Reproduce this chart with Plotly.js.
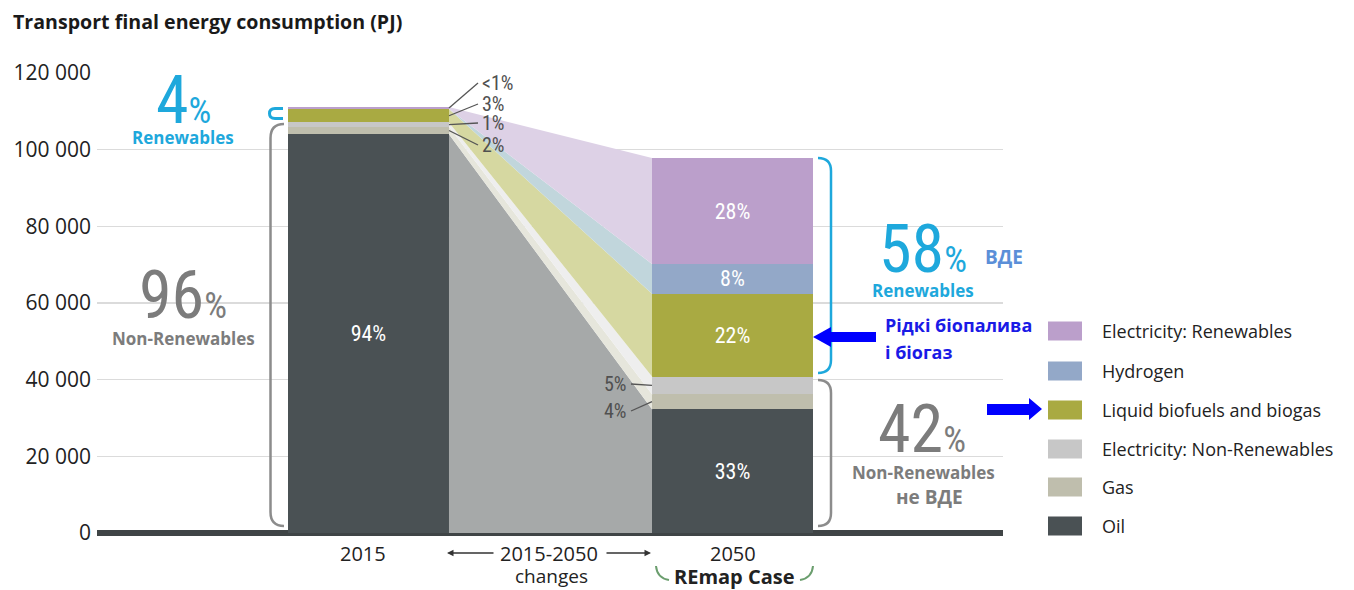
<!DOCTYPE html>
<html>
<head>
<meta charset="utf-8">
<script src="https://cdn.plot.ly/plotly-3.0.1.min.js"></script>
<style>
  html, body { margin: 0; padding: 0; background: #ffffff; }
  #chart { width: 1354px; height: 590px; }
</style>
</head>
<body>
<div id="chart"></div>
<script>
// Transport final energy consumption (PJ), 2015 vs 2050 REmap Case
const years = ['2015', '2050'];
const seriesNames = ['Oil', 'Gas', 'Electricity: Non-Renewables', 'Liquid biofuels and biogas', 'Hydrogen', 'Electricity: Renewables'];
const oil        = [104000, 32300];
const gas        = [2000, 3900];
const elecNonRen = [1100, 4600];
const biofuels   = [3500, 21600];
const hydrogen   = [0, 7800];
const elecRen    = [500, 27600];
const yTickVals  = [0, 20000, 40000, 60000, 80000, 100000, 120000];
const yTickText  = ['0', '20 000', '40 000', '60 000', '80 000', '100 000', '120 000'];

const series = [oil, gas, elecNonRen, biofuels, hydrogen, elecRen];
const renewableIdx = [3, 4, 5];

// styling
const barColors  = ['#4a5154', '#bfbead', '#c7c7c7', '#a9aa42', '#93a8c8', '#bb9fcb'];
const flowColors = ['#a6a9a9', '#e6e6dc', '#eeeeee', '#d6d8a1', '#c1d6dc', '#ddd1e6'];
const FONT  = '"Open Sans", Lato, sans-serif';
const FONTC = '"Liberation Sans Narrow", "Roboto Condensed", "DejaVu Sans Condensed", Roboto, sans-serif';
const CYAN = '#1ea8dc', GREY = '#7c7c7c', BLUE = '#1a1ae6';

// geometry of the plot area (px) and the x positions of the two columns
const M = { l: 97, r: 351, t: 73, b: 57 };
const W = 1354, H = 590;
const plotW = W - M.l - M.r, plotH = H - M.t - M.b;
const barX = [0, 2.261];
const flowX = [0.5, 1.761];
const xRange = [-1.686, 3.941];
const yMax = 120000;

// pixel -> paper helpers for decorations
const px = x => (x - M.l) / plotW;
const py = y => (H - M.b - y) / plotH;
const yPix = v => (H - M.b) - v / yMax * plotH;

const totals = years.map((_, j) => series.reduce((s, arr) => s + arr[j], 0));
const pctText = (v, j) => {
  const p = v / totals[j] * 100;
  return p < 0.5 ? '<1%' : Math.round(p) + '%';
};

// in-bar labels: 2015 oil, 2050 oil/biofuels/hydrogen/renewable electricity
const insideLabel = [[true, true], [false, false], [false, false], [false, true], [false, true], [false, true]];

const traces = [];
series.forEach((arr, i) => {
  traces.push({
    type: 'scatter', x: flowX, y: arr.slice(), stackgroup: 'flow', mode: 'none',
    fillcolor: flowColors[i], line: { width: 0 }, hoverinfo: 'skip', showlegend: false
  });
});
series.forEach((arr, i) => {
  traces.push({
    type: 'bar', x: barX, y: arr, width: 1, name: seriesNames[i],
    marker: { color: barColors[i], line: { width: 0 } },
    text: arr.map((v, j) => insideLabel[i][j] ? pctText(v, j) : ''),
    textposition: 'inside', insidetextanchor: 'middle', textangle: 0,
    constraintext: 'none',
    textfont: { family: FONTC, size: 22, color: '#ffffff' },
    hoverinfo: 'skip', showlegend: false
  });
});

const annotations = [];
const shapes = [];
const ann = (x, y, text, o) => annotations.push(Object.assign({
  xref: 'paper', yref: 'paper', x: px(x), y: py(y), text: text, showarrow: false,
  xanchor: 'center', yanchor: 'middle', font: { family: FONT, size: 17, color: '#222' }
}, o || {}));
const line = (x0, y0, x1, y1, color, w) => shapes.push({
  type: 'line', xref: 'paper', yref: 'paper', x0: px(x0), y0: py(y0), x1: px(x1), y1: py(y1),
  line: { color: color, width: w }
});
const svgPath = (cmds) => cmds.map(c => typeof c === 'string' ? c : px(c[0]) + ',' + py(c[1])).join(' ');
const pathShape = (cmds, color, w, fill) => shapes.push({
  type: 'path', xref: 'paper', yref: 'paper', path: svgPath(cmds),
  line: { color: color, width: w }, fillcolor: fill || 'rgba(0,0,0,0)'
});

// shares
const nonRenShare = j => Math.round([0, 1, 2].reduce((s, i) => s + series[i][j], 0) / totals[j] * 100);
const renShare = j => Math.round(renewableIdx.reduce((s, i) => s + series[i][j], 0) / totals[j] * 100);
const big = (n, pctSize) => n + '<span style="font-size:' + pctSize + 'px">%</span>';

// 2015 side annotations
ann(183, 100, big(renShare(0), 36), { font: { family: FONTC, size: 66, color: CYAN } });
ann(183, 137, '<b>Renewables</b>', { font: { family: FONT, size: 17, color: CYAN } });
ann(183, 295, big(nonRenShare(0), 36), { font: { family: FONTC, size: 66, color: GREY } });
ann(183, 338, '<b>Non-Renewables</b>', { font: { family: FONT, size: 17, color: GREY } });

// brackets next to the 2015 column
pathShape(['M', [283, 108.5], 'L', [275, 108.5], 'Q', [269.5, 108.5], [269.5, 113.5], 'Q', [269.5, 118.5], [275, 118.5], 'L', [283, 118.5]], CYAN, 3);
pathShape(['M', [284, 124], 'Q', [270.5, 124], [270.5, 138], 'L', [270.5, 512], 'Q', [270.5, 526], [284, 526]], '#8c8c8c', 2.5);

// leader labels for the thin 2015 segments
const cum2015 = [];
series.reduce((s, arr, i) => { cum2015[i] = [s, s + arr[0]]; return s + arr[0]; }, 0);
const leader2015 = [{ i: 5, ty: 83 }, { i: 3, ty: 104 }, { i: 2, ty: 123 }, { i: 1, ty: 145 }];
leader2015.forEach(d => {
  const mid = yPix((cum2015[d.i][0] + cum2015[d.i][1]) / 2);
  line(449, mid, 478, d.ty, '#555', 1.3);
  ann(480, d.ty, pctText(series[d.i][0], 0), { xanchor: 'left', font: { family: FONTC, size: 20, color: '#505050' } });
});

// leader labels for the thin 2050 segments
const cum2050 = [];
series.reduce((s, arr, i) => { cum2050[i] = [s, s + arr[1]]; return s + arr[1]; }, 0);
const leader2050 = [{ i: 2, ty: 384 }, { i: 1, ty: 411 }];
leader2050.forEach(d => {
  const mid = yPix((cum2050[d.i][0] + cum2050[d.i][1]) / 2);
  line(631, d.ty, 652, mid, '#555', 1.3);
  ann(629, d.ty, pctText(series[d.i][1], 1), { xanchor: 'right', font: { family: FONTC, size: 20, color: '#505050' } });
});

// brackets next to the 2050 column
pathShape(['M', [818, 158], 'Q', [831, 158], [831, 171], 'L', [831, 360], 'Q', [831, 373], [818, 373]], CYAN, 2.5);
pathShape(['M', [818, 380], 'Q', [831, 380], [831, 393], 'L', [831, 513], 'Q', [831, 526], [818, 526]], '#8c8c8c', 2.5);

ann(923, 249, big(renShare(1), 36), { font: { family: FONTC, size: 66, color: CYAN } });
ann(923, 290, '<b>Renewables</b>', { font: { family: FONT, size: 17, color: CYAN } });
ann(1004, 257, '<b>ВДЕ</b>', { font: { family: FONT, size: 19, color: '#5b8fd8' } });
ann(922, 429, big(nonRenShare(1), 36), { font: { family: FONTC, size: 66, color: GREY } });
ann(923, 472, '<b>Non-Renewables</b>', { font: { family: FONT, size: 17, color: GREY } });
ann(929, 497, '<b>не ВДЕ</b>', { font: { family: FONT, size: 19, color: GREY } });

// biofuels callout
pathShape(['M', [813, 337], 'L', [831, 327], 'L', [831, 332], 'L', [876, 332], 'L', [876, 342], 'L', [831, 342], 'L', [831, 347], 'Z'], BLUE, 0, '#0000ff');
ann(883, 325, '<b>Рідкі біопалива</b>', { xanchor: 'left', font: { family: FONT, size: 18, color: BLUE } });
ann(883, 352, '<b>і біогаз</b>', { xanchor: 'left', font: { family: FONT, size: 18, color: BLUE } });
pathShape(['M', [1042, 409], 'L', [1029, 398], 'L', [1029, 404], 'L', [987, 404], 'L', [987, 415], 'L', [1029, 415], 'L', [1029, 420], 'Z'], BLUE, 0, '#0000ff');

// legend (top to bottom: renewable electricity ... oil)
const legendRows = [331, 371, 410, 449, 487, 526];
[5, 4, 3, 2, 1, 0].forEach((i, r) => {
  const yc = legendRows[r];
  shapes.push({ type: 'rect', xref: 'paper', yref: 'paper', x0: px(1048), x1: px(1082), y0: py(yc + 9.5), y1: py(yc - 9.5),
    fillcolor: barColors[i], line: { width: 0 } });
  ann(1100, yc, seriesNames[i], { xanchor: 'left', font: { family: FONT, size: 18, color: '#222' } });
});

// category labels under the axis
ann(363, 553, years[0], { font: { family: FONT, size: 20, color: '#222' } });
ann(549, 553, '2015-2050', { font: { family: FONT, size: 20, color: '#222' } });
ann(551, 576, 'changes', { font: { family: FONT, size: 19, color: '#222' } });
ann(733, 553, years[1], { font: { family: FONT, size: 20, color: '#222' } });
ann(734, 576, '<b>REmap Case</b>', { font: { family: FONT, size: 20, color: '#222' } });
annotations.push({ xref: 'paper', yref: 'paper', x: px(447), y: py(553), ax: 48, ay: 0, text: '',
  showarrow: true, arrowhead: 2, arrowsize: 1, arrowwidth: 1.3, arrowcolor: '#333' });
annotations.push({ xref: 'paper', yref: 'paper', x: px(651), y: py(553), ax: -46, ay: 0, text: '',
  showarrow: true, arrowhead: 2, arrowsize: 1, arrowwidth: 1.3, arrowcolor: '#333' });
pathShape(['M', [656, 566], 'Q', [657, 578], [669, 580]], '#6b9e6e', 2);
pathShape(['M', [813, 566], 'Q', [812, 578], [800, 580]], '#6b9e6e', 2);

const layout = {
  width: W, height: H,
  margin: M,
  paper_bgcolor: '#ffffff', plot_bgcolor: '#ffffff',
  showlegend: false,
  barmode: 'stack',
  title: {
    text: '<b>Transport final energy consumption (PJ)</b>',
    x: 13 / W, xref: 'container', xanchor: 'left',
    y: 1 - 22 / H, yref: 'container', yanchor: 'middle',
    font: { family: FONT, size: 19.6, color: '#1a1a1a' }
  },
  xaxis: { range: xRange, showgrid: false, zeroline: false, showticklabels: false, fixedrange: true },
  yaxis: {
    range: [0, yMax], tickvals: yTickVals, ticktext: yTickText,
    tickfont: { family: FONT, size: 21, color: '#222' },
    ticklabelstandoff: 5,
    showgrid: true, gridcolor: 'rgba(0,0,0,0.14)', gridwidth: 1.5,
    zeroline: true, zerolinecolor: '#3f4446', zerolinewidth: 6,
    showline: false, ticks: '', layer: 'above traces', fixedrange: true
  },
  annotations: annotations,
  shapes: shapes
};

Plotly.newPlot('chart', traces, layout, { staticPlot: true, displayModeBar: false });
</script>
</body>
</html>
